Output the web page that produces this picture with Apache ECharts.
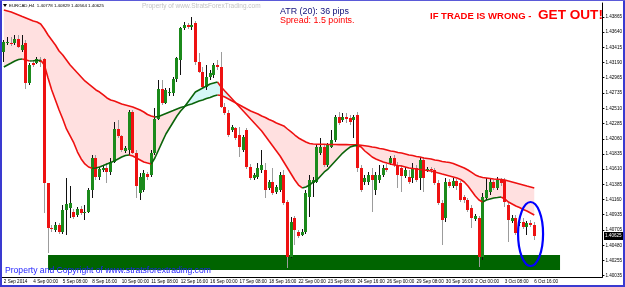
<!DOCTYPE html>
<html><head><meta charset="utf-8">
<script src="https://cdn.jsdelivr.net/npm/echarts@6.0.0/dist/echarts.min.js"></script>
<style>html,body{margin:0;padding:0;background:#fff}#c{width:625px;height:287px}</style>
</head><body><div id="c"></div>
<script>
// ---------- DATA ----------
var xTickLabels = ["2 Sep 2014","4 Sep 00:00","5 Sep 08:00","8 Sep 16:00","10 Sep 00:00","11 Sep 08:00","12 Sep 16:00","16 Sep 00:00","17 Sep 08:00","18 Sep 16:00","22 Sep 00:00","23 Sep 08:00","24 Sep 16:00","26 Sep 00:00","29 Sep 08:00","30 Sep 16:00","2 Oct 00:00","3 Oct 08:00","6 Oct 16:00"];
var yTickLabels = [1.43865,1.43640,1.43415,1.43190,1.42965,1.42735,1.42510,1.42285,1.42060,1.41835,1.41610,1.41385,1.41160,1.40935,1.40705,1.40480,1.40255,1.40035];

var open = [
1.43346,1.43480,1.43480,1.43480,1.43539,1.43376,1.43480,1.42887,1.43183,1.43183,
1.43213,1.43243,1.41405,1.40738,1.40708,1.40782,1.40679,1.41005,1.41034,1.40975,
1.40931,1.41020,1.40960,1.40975,1.41301,1.41775,1.41494,1.41598,1.41627,1.41568,
1.41716,1.42205,1.42102,1.41879,1.41894,1.42457,1.41849,1.41257,1.41301,1.41538,
1.41524,1.41849,1.42353,1.42798,1.42590,1.42739,1.42739,1.42947,1.43228,1.43702,
1.43747,1.43717,1.43776,1.43198,1.43050,1.42828,1.42976,1.43006,1.43154,1.43124,
1.42531,1.42442,1.42190,1.42220,1.42116,1.41894,1.42190,1.41642,1.41479,1.41494,
1.41598,1.41598,1.41331,1.41420,1.41272,1.41301,1.41524,1.41123,1.40309,1.40886,
1.40679,1.40634,1.40679,1.41198,1.41405,1.41420,1.41849,1.41938,1.41672,1.41938,
1.42042,1.42383,1.42339,1.42383,1.42368,1.42339,1.42413,1.41627,1.41420,1.41420,
1.41524,1.41301,1.41449,1.41524,1.41627,1.41701,1.41775,1.41672,1.41627,1.41509,
1.41494,1.41479,1.41627,1.41479,1.41746,1.41598,1.41612,1.41598,1.41405,1.41108,
1.40886,1.41420,1.41360,1.41435,1.41405,1.41198,1.41153,1.41034,1.40871,1.40886,
1.40309,1.41183,1.41272,1.41420,1.41331,1.41449,1.41449,1.41079,1.40842,1.40886,
1.40812,1.40827,1.40753,1.40812,1.40778];
var high = [
1.43524,1.43569,1.43569,1.43598,1.43598,1.43598,1.43524,1.43183,1.43228,1.43272,
1.43272,1.43257,1.41405,1.40782,1.40827,1.40812,1.41079,1.41479,1.41360,1.41020,
1.41049,1.41064,1.41079,1.41331,1.41820,1.41820,1.41642,1.41672,1.41701,1.41775,
1.42309,1.42339,1.42116,1.41953,1.42487,1.42487,1.41894,1.41553,1.41598,1.41568,
1.41894,1.42516,1.42931,1.42931,1.42813,1.42813,1.42976,1.43272,1.43717,1.43791,
1.43776,1.43865,1.43806,1.43332,1.43124,1.43154,1.43080,1.43183,1.43228,1.43346,
1.42590,1.42487,1.42265,1.42235,1.42235,1.42116,1.42220,1.41687,1.41553,1.41701,
1.41894,1.41701,1.41449,1.41627,1.41375,1.41568,1.41598,1.41153,1.40901,1.40916,
1.40708,1.40723,1.41301,1.41524,1.41494,1.41968,1.42072,1.41968,1.41998,1.42190,
1.42413,1.42457,1.42442,1.42442,1.42413,1.42413,1.42457,1.41672,1.41524,1.41568,
1.41627,1.41568,1.41672,1.41672,1.41687,1.41805,1.41820,1.41716,1.41672,1.41642,
1.41598,1.41701,1.41672,1.41790,1.41790,1.41642,1.41642,1.41627,1.41449,1.41153,
1.41479,1.41464,1.41479,1.41464,1.41435,1.41227,1.41183,1.41079,1.40946,1.40916,
1.41257,1.41479,1.41479,1.41449,1.41494,1.41479,1.41479,1.41108,1.40931,1.40931,
1.40871,1.40886,1.40842,1.40857,1.40829];
var low = [
1.43198,1.43450,1.43435,1.43450,1.43406,1.43346,1.42798,1.42857,1.43124,1.43168,
1.43124,1.40960,1.40368,1.40679,1.40679,1.40649,1.40649,1.40634,1.40886,1.40871,
1.40901,1.40931,1.40857,1.40960,1.41183,1.41449,1.41449,1.41568,1.41405,1.41524,
1.41701,1.42072,1.41864,1.41849,1.41820,1.41835,1.41183,1.41153,1.41272,1.41449,
1.41494,1.41820,1.42339,1.42561,1.42576,1.42694,1.42694,1.42902,1.43006,1.43672,
1.43687,1.43672,1.43154,1.43035,1.42798,1.42783,1.42931,1.42961,1.43080,1.42516,
1.42413,1.42087,1.42161,1.42042,1.41790,1.41864,1.41612,1.41449,1.41449,1.41464,
1.41553,1.41183,1.41301,1.41227,1.41242,1.41272,1.41079,1.40145,1.40293,1.40486,
1.40590,1.40619,1.40649,1.40901,1.41198,1.41405,1.41820,1.41642,1.41642,1.41923,
1.42013,1.42265,1.42309,1.42294,1.42265,1.42072,1.41568,1.41272,1.41375,1.41375,
1.40975,1.41227,1.41405,1.41494,1.41568,1.41672,1.41642,1.41331,1.41272,1.41479,
1.41390,1.41405,1.41420,1.41301,1.41272,1.41568,1.41553,1.41375,1.41079,1.40486,
1.40827,1.41331,1.41331,1.41301,1.41123,1.41108,1.40975,1.40738,1.40842,1.40160,
1.40264,1.41153,1.41227,1.41301,1.41301,1.41360,1.41049,1.40531,1.40812,1.40634,
1.40768,1.40723,1.40634,1.40753,1.40564];
var close = [
1.43495,1.43495,1.43465,1.43539,1.43420,1.43450,1.42887,1.43154,1.43154,1.43243,
1.43198,1.41405,1.40738,1.40723,1.40782,1.40679,1.41005,1.41094,1.41108,1.40901,
1.41020,1.40960,1.40975,1.41301,1.41775,1.41494,1.41612,1.41627,1.41568,1.41716,
1.42205,1.42102,1.41894,1.41923,1.42457,1.41849,1.41360,1.41494,1.41553,1.41494,
1.41849,1.42353,1.42798,1.42590,1.42783,1.42753,1.42947,1.43257,1.43702,1.43747,
1.43717,1.43747,1.43198,1.43050,1.42828,1.42976,1.43035,1.43154,1.43124,1.42531,
1.42442,1.42116,1.42235,1.42072,1.41938,1.42087,1.41642,1.41479,1.41524,1.41627,
1.41672,1.41301,1.41420,1.41257,1.41346,1.41524,1.41108,1.40309,1.40827,1.40708,
1.40619,1.40679,1.41257,1.41449,1.41449,1.41938,1.41938,1.41672,1.41968,1.42042,
1.42383,1.42294,1.42383,1.42353,1.42309,1.42383,1.41627,1.41301,1.41479,1.41524,
1.41449,1.41524,1.41524,1.41627,1.41598,1.41775,1.41672,1.41524,1.41509,1.41598,
1.41420,1.41627,1.41449,1.41746,1.41479,1.41612,1.41598,1.41405,1.41108,1.40857,
1.41420,1.41360,1.41435,1.41360,1.41153,1.41153,1.41005,1.40886,1.40916,1.40309,
1.41198,1.41301,1.41420,1.41331,1.41449,1.41405,1.41123,1.40857,1.40886,1.40664,
1.40827,1.40753,1.40812,1.40782,1.40625];

var slowMA = [
1.43969,1.43954,1.43939,1.43917,1.43895,1.43872,1.43850,1.43828,1.43806,1.43791,
1.43761,1.43687,1.43598,1.43524,1.43450,1.43361,1.43302,1.43228,1.43154,1.43094,
1.43035,1.42976,1.42917,1.42872,1.42828,1.42783,1.42753,1.42709,1.42665,1.42635,
1.42620,1.42598,1.42576,1.42561,1.42546,1.42531,1.42509,1.42487,1.42457,1.42420,
1.42398,1.42383,1.42390,1.42413,1.42435,1.42457,1.42479,1.42502,1.42524,1.42539,
1.42561,1.42576,1.42598,1.42620,1.42635,1.42657,1.42672,1.42694,1.42709,1.42702,
1.42679,1.42650,1.42620,1.42590,1.42561,1.42531,1.42502,1.42472,1.42450,1.42428,
1.42398,1.42376,1.42346,1.42324,1.42294,1.42272,1.42250,1.42205,1.42161,1.42116,
1.42072,1.42042,1.42013,1.41990,1.41983,1.41980,1.41978,1.41978,1.41976,1.41975,
1.41975,1.41974,1.41973,1.41973,1.41972,1.41972,1.41970,1.41965,1.41958,1.41950,
1.41938,1.41931,1.41916,1.41909,1.41894,1.41879,1.41872,1.41857,1.41849,1.41835,
1.41820,1.41812,1.41798,1.41790,1.41775,1.41768,1.41761,1.41746,1.41738,1.41724,
1.41716,1.41709,1.41694,1.41672,1.41650,1.41627,1.41598,1.41561,1.41524,1.41501,
1.41486,1.41479,1.41472,1.41464,1.41461,1.41457,1.41449,1.41435,1.41420,1.41405,
1.41390,1.41375,1.41360,1.41346,1.41331];
var fastMA = [
1.43124,1.43154,1.43183,1.43213,1.43235,1.43243,1.43228,1.43213,1.43216,1.43220,
1.43222,1.43154,1.42961,1.42783,1.42635,1.42487,1.42353,1.42205,1.42102,1.41998,
1.41864,1.41761,1.41687,1.41642,1.41624,1.41627,1.41642,1.41664,1.41687,1.41709,
1.41731,1.41761,1.41790,1.41813,1.41820,1.41805,1.41775,1.41746,1.41716,1.41701,
1.41687,1.41775,1.41894,1.42013,1.42131,1.42220,1.42309,1.42398,1.42472,1.42531,
1.42605,1.42679,1.42753,1.42783,1.42813,1.42842,1.42872,1.42887,1.42902,1.42828,
1.42768,1.42709,1.42650,1.42590,1.42531,1.42472,1.42413,1.42353,1.42294,1.42235,
1.42176,1.42102,1.42027,1.41953,1.41879,1.41805,1.41716,1.41627,1.41538,1.41449,
1.41375,1.41331,1.41346,1.41375,1.41420,1.41449,1.41509,1.41568,1.41612,1.41672,
1.41731,1.41790,1.41849,1.41894,1.41938,1.41955,1.41962,1.41938,1.41879,1.41835,
1.41790,1.41761,1.41738,1.41716,1.41701,1.41687,1.41672,1.41664,1.41657,1.41642,
1.41627,1.41620,1.41612,1.41605,1.41598,1.41590,1.41583,1.41568,1.41553,1.41538,
1.41524,1.41509,1.41494,1.41479,1.41457,1.41420,1.41360,1.41286,1.41212,1.41153,
1.41123,1.41153,1.41168,1.41183,1.41190,1.41198,1.41168,1.41123,1.41094,1.41064,
1.41042,1.41012,1.40990,1.40960,1.40931];

// support zone drawn on the chart (bar index range, price range)
var zoneBars = [12, 151];
var zonePrices = [1.40338, 1.40116];
// ellipse annotation anchor (bar index, price)
var ellipseAnchor = [143, 1.40649];

// ---------- CHART ----------
var FONT = '"Liberation Sans", Arial, sans-serif';
var N_SLOTS = 163;
var slots = [];
for (var i = 0; i < N_SLOTS; i++) slots.push(String(i));

var candles = open.map(function (o, i) { return [i, o, high[i], low[i], close[i]]; });

function splitBySlope(arr, wantUp) {
  return arr.map(function (v, i) {
    var prevUp = i > 0 ? (arr[i] > arr[i - 1]) : null;
    var nextUp = i < arr.length - 1 ? (arr[i + 1] > arr[i]) : null;
    return (prevUp === wantUp || nextUp === wantUp) ? v : null;
  });
}
var bandLow = slowMA.map(function (s, i) { return Math.min(s, fastMA[i]); });
var bandPink = slowMA.map(function (s, i) { return s >= fastMA[i] ? s - fastMA[i] : 0; });
var bandCyan = slowMA.map(function (s, i) { return fastMA[i] > s ? fastMA[i] - s : 0; });

var UP = '#1b8a1b', DN = '#ee1111', WICK_UP = '#111111', WICK_DN = '#9c9c9c';
var RED = '#ee1111', GREEN = '#0a640a';

function renderCandle(params, api) {
  var i = api.value(0);
  var o = api.value(1), h = api.value(2), l = api.value(3), c = api.value(4);
  var pO = api.coord([i, o]), pC = api.coord([i, c]);
  var pH = api.coord([i, h]), pL = api.coord([i, l]);
  var cx = Math.floor(pO[0]);
  var up = c >= o;
  var top = Math.round(Math.min(pO[1], pC[1])), bot = Math.round(Math.max(pO[1], pC[1]));
  var hgt = Math.max(1, bot - top);
  return {
    type: 'group',
    children: [
      { type: 'rect', shape: { x: cx, y: Math.round(pH[1]), width: 1, height: Math.max(1, Math.round(pL[1]) - Math.round(pH[1])) },
        style: { fill: up ? WICK_UP : WICK_DN } },
      { type: 'rect', shape: { x: cx - 1, y: top, width: 3, height: hgt },
        style: { fill: up ? UP : DN } }
    ]
  };
}

function maLine(data, color) {
  return { type: 'line', data: data, symbol: 'none', connectNulls: false, silent: true, z: 12,
    lineStyle: { color: color, width: 1.6 } };
}

var chart = echarts.init(document.getElementById('c'), null, { renderer: 'canvas' });
chart.setOption({
  animation: false,
  backgroundColor: '#ffffff',
  grid: { left: 2, right: 22, top: 3, bottom: 10, containLabel: false },
  xAxis: {
    type: 'category', data: slots, boundaryGap: true,
    axisLine: { lineStyle: { color: '#000', width: 1 } },
    axisTick: { interval: 7, alignWithLabel: true, length: 2, lineStyle: { color: '#000' } },
    axisLabel: {
      interval: 7, align: 'left', fontSize: 4.6, color: '#000', margin: 2, fontFamily: FONT,
      formatter: function (v, idx) { var k = idx / 8; return (idx % 8 === 0 && k < xTickLabels.length) ? xTickLabels[k] : ''; }
    },
    splitLine: { show: false }
  },
  yAxis: {
    type: 'value', position: 'right', min: 1.40012, max: 1.44072,
    axisLine: { show: true, lineStyle: { color: '#000' } },
    axisTick: { show: true, customValues: yTickLabels, length: 2, lineStyle: { color: '#000' } },
    axisLabel: { customValues: yTickLabels, fontSize: 4.6, color: '#000', margin: 3, fontFamily: FONT,
      formatter: function (v) { return v.toFixed(5); } },
    splitLine: { show: false }
  },
  series: [
    { type: 'line', stack: 'band', data: bandLow, symbol: 'none', silent: true, z: 1,
      lineStyle: { opacity: 0 },
      markArea: { silent: true, itemStyle: { color: '#006400', opacity: 1 },
        data: [[{ xAxis: zoneBars[0], yAxis: zonePrices[0] }, { xAxis: zoneBars[1], yAxis: zonePrices[1] }]] } },
    { type: 'line', stack: 'band', data: bandPink, symbol: 'none', silent: true, z: 1,
      lineStyle: { opacity: 0 }, areaStyle: { color: '#ffe0e0', opacity: 1 } },
    { type: 'line', stack: 'band', data: bandCyan, symbol: 'none', silent: true, z: 1,
      lineStyle: { opacity: 0 }, areaStyle: { color: '#d6f8f8', opacity: 1 } },
    { type: 'custom', data: candles, renderItem: renderCandle, encode: { x: 0, y: [1, 2, 3, 4] }, z: 10, silent: true },
    maLine(splitBySlope(slowMA, false), RED),
    maLine(splitBySlope(slowMA, true), GREEN),
    maLine(splitBySlope(fastMA, false), RED),
    maLine(splitBySlope(fastMA, true), GREEN)
  ]
});

// annotations positioned through the chart's own scales
var ec = chart.convertToPixel({ xAxisIndex: 0, yAxisIndex: 0 }, ellipseAnchor);
var lastY = chart.convertToPixel({ yAxisIndex: 0 }, close[close.length - 1]);

function txt(text, x, y, font, fill, align) {
  return { type: 'text', z: 100, x: x, y: y,
    style: { text: text, font: font, fill: fill, textAlign: align || 'left', textVerticalAlign: 'middle', align: align || 'left', verticalAlign: 'middle' } };
}

chart.setOption({
  graphic: [
    { type: 'ellipse', z: 90, shape: { cx: ec[0], cy: ec[1], rx: 12.5, ry: 32 },
      style: { fill: 'none', stroke: '#0000ff', lineWidth: 2.2 } },
    { type: 'rect', z: 95, shape: { x: 604, y: Math.round(lastY) - 4, width: 20, height: 8 }, style: { fill: '#000' } },
    txt('1.40625', 605, Math.round(lastY), '4.6px ' + FONT, '#fff'),
    { type: 'polygon', z: 100, shape: { points: [[3, 4], [7, 4], [5, 7]] }, style: { fill: '#000' } },
    txt('EURCAD,H4  1.40778 1.40829 1.40564 1.40625', 9, 5.7, '4.4px ' + FONT, '#000'),
    txt('Property of www.StratsForexTrading.com', 142, 6, '6.5px ' + FONT, '#c4c4c4'),
    txt('ATR (20): 36 pips', 280, 11.5, '8.9px ' + FONT, '#10107a'),
    txt('Spread: 1.5 points.', 280, 21, '8.9px ' + FONT, '#ff0000'),
    txt('IF TRADE IS WRONG - ', 430, 16.3, 'bold 9.5px ' + FONT, '#ff0000'),
    txt('GET OUT!', 538, 15.7, 'bold 13.6px ' + FONT, '#ff0000'),
    txt('Property and Copyright of www.stratsforextrading.com', 5, 271, '8.6px ' + FONT, '#1f1fff'),
    { type: 'rect', z: 120, shape: { x: 0, y: 0, width: 2, height: 287 }, style: { fill: '#3a3ad0' } },
    { type: 'rect', z: 120, shape: { x: 623, y: 0, width: 2, height: 287 }, style: { fill: '#3a3ad0' } },
    { type: 'rect', z: 120, shape: { x: 0, y: 0, width: 625, height: 1 }, style: { fill: '#5a5ad8' } },
    { type: 'rect', z: 120, shape: { x: 0, y: 285, width: 625, height: 2 }, style: { fill: '#3a3ad0' } }
  ]
});
</script></body></html>
